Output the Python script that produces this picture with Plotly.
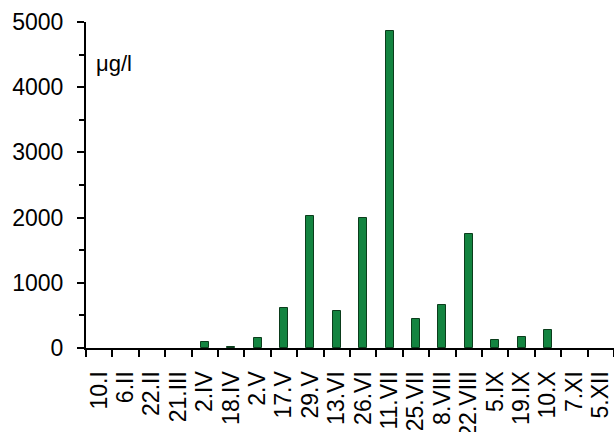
import plotly.graph_objects as go

dates = ["10.I", "6.II", "22.II", "21.III", "2.IV", "18.IV", "2.V", "17.V", "29.V", "13.VI",
         "26.VI", "11.VII", "25.VII", "8.VIII", "22.VIII", "5.IX", "19.IX", "10.X", "7.XI", "5.XII"]
values = [0, 0, 0, 0, 95, 12, 155, 612, 2028, 560,
          1990, 4855, 452, 652, 1746, 118, 168, 282, 0, 0]
y_ticks = [0, 1000, 2000, 3000, 4000, 5000]

line_w = [1 if v > 0 else 0 for v in values]

fig = go.Figure()
fig.add_trace(go.Bar(
    x=dates, y=values, width=0.3,
    marker=dict(color="#138440", line=dict(color="#0b3d1c", width=line_w)),
))

fig.add_annotation(text="μg/l", xref="paper", yref="y", x=0.016, y=4360,
                   xanchor="left", yanchor="middle", showarrow=False,
                   font=dict(family="Liberation Sans, Arial", size=22, color="black"))

fig.update_layout(
    width=614, height=432,
    margin=dict(l=86, r=0, t=22, b=84),
    paper_bgcolor="white", plot_bgcolor="white",
    showlegend=False,
    font=dict(family="Liberation Sans, Arial", size=23, color="black"),
    bargap=0,
)
fig.update_xaxes(
    type="category", range=[-0.5, 19.5], automargin=False,
    tickmode="array", tickvals=dates, ticktext=dates,
    showline=True, linecolor="black", linewidth=2,
    ticks="outside", tickson="boundaries", ticklen=7, tickwidth=2, tickcolor="black",
    tickangle=-90, showgrid=False, ticklabelstandoff=12,
)
fig.update_yaxes(
    range=[0, 5000], tickvals=y_ticks, automargin=False,
    showline=True, linecolor="black", linewidth=2,
    ticks="outside", ticklen=7, tickwidth=2, tickcolor="black",
    minor=dict(dtick=500, ticks="outside", ticklen=5, tickwidth=2, tickcolor="black", showgrid=False),
    showgrid=False, zeroline=False, ticklabelstandoff=9,
)

fig.write_html("out.html", config={"displayModeBar": False},
               post_script="document.body.style.margin='0';document.body.style.padding='0';")
